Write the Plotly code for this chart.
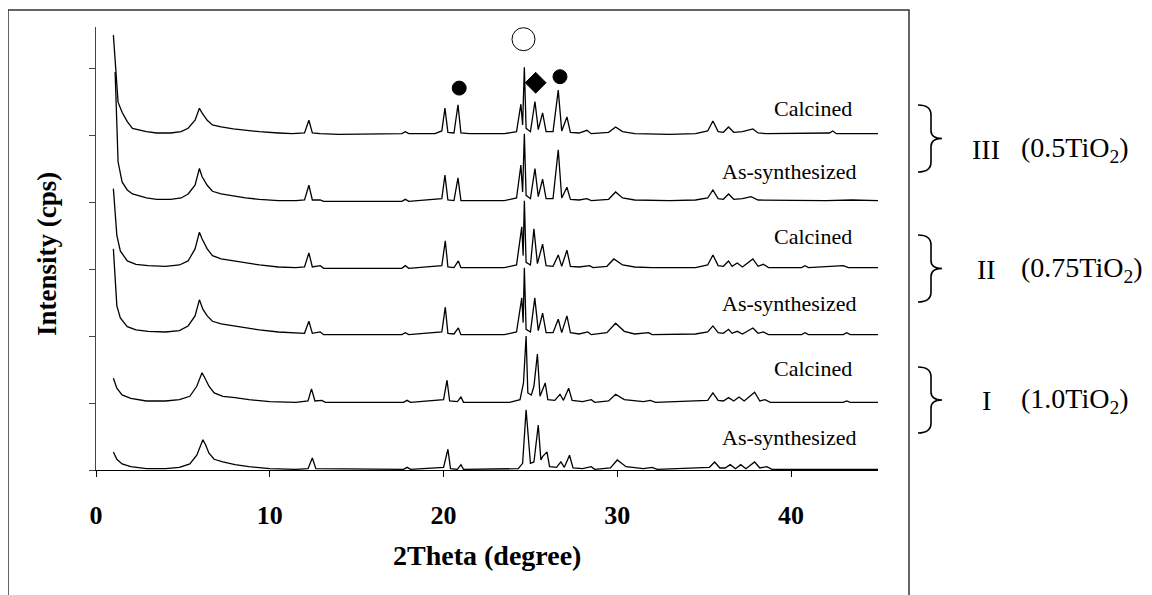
import plotly.graph_objects as go

# ---------------- data (2theta in degree, intensity in stacked units) ----------------
# Sample I  (1.0TiO2) As-synthesized
i_as_x = [1.0, 1.2, 1.5, 2.0, 2.9, 4.0, 4.8, 5.4, 5.8, 6.15, 6.3, 6.5, 6.8, 7.3, 8.0, 8.8, 10.0, 11.5,
          12.2, 12.45, 12.65, 17.7, 17.9, 18.1, 20.0, 20.25, 20.4, 20.8, 21.0, 21.15, 24.3, 24.55,
          24.75, 24.85, 25.0, 25.2, 25.45, 25.6, 25.7, 25.95, 26.1, 26.5, 26.75, 26.95, 27.25, 27.45,
          28.0, 28.5, 28.7, 29.6, 30.0, 30.5, 31.5, 32.0, 32.3, 35.3, 35.6, 35.9, 36.2, 36.5, 36.8,
          37.1, 37.4, 37.9, 38.2, 38.6, 38.9, 45.0]
i_as_y = [0.27, 0.16, 0.09, 0.05, 0.02, 0.02, 0.04, 0.09, 0.22, 0.45, 0.38, 0.25, 0.16, 0.12, 0.08, 0.05, 0.02, 0.01,
          0.02, 0.18, 0.02, 0.01, 0.04, 0.01, 0.04, 0.31, 0.02, 0.01, 0.08, 0.01, 0.02, 0.10,
          0.90, 0.60, 0.10, 0.12, 0.67, 0.15, 0.20, 0.27, 0.05, 0.04, 0.12, 0.04, 0.22, 0.03,
          0.02, 0.05, 0.01, 0.03, 0.15, 0.05, 0.02, 0.04, 0.01, 0.04, 0.12, 0.03, 0.03, 0.08, 0.02,
          0.08, 0.02, 0.12, 0.03, 0.05, 0.01, 0.01]

# Sample I  (1.0TiO2) Calcined
i_ca_x = [1.0, 1.2, 1.5, 2.0, 2.9, 4.0, 4.8, 5.4, 5.8, 6.1, 6.25, 6.5, 6.8, 7.3, 8.0, 8.8, 10.0, 11.5,
          12.2, 12.4, 12.6, 13.0, 13.2, 17.7, 17.9, 18.1, 20.0, 20.2, 20.35, 20.8, 21.0, 21.15, 23.8,
          24.4, 24.6, 24.75, 24.85, 25.05, 25.2, 25.4, 25.55, 25.85, 26.0, 26.4, 26.7, 26.9, 27.2, 27.4,
          28.0, 28.5, 28.7, 29.5, 29.9, 30.4, 31.5, 31.9, 32.2, 35.2, 35.5, 35.8, 36.1, 36.4, 36.7,
          37.0, 37.3, 37.9, 38.2, 38.5, 38.8, 43.0, 43.2, 43.4, 45.0]
i_ca_y = [0.37, 0.22, 0.12, 0.07, 0.03, 0.03, 0.05, 0.10, 0.25, 0.45, 0.38, 0.25, 0.15, 0.10, 0.08, 0.05, 0.02, 0.01,
          0.03, 0.21, 0.03, 0.04, 0.01, 0.01, 0.04, 0.01, 0.05, 0.34, 0.03, 0.02, 0.09, 0.01, 0.01,
          0.05, 0.30, 1.00, 0.15, 0.12, 0.25, 0.73, 0.10, 0.30, 0.05, 0.04, 0.13, 0.04, 0.22, 0.04,
          0.02, 0.05, 0.01, 0.03, 0.13, 0.05, 0.02, 0.04, 0.01, 0.04, 0.15, 0.04, 0.03, 0.08, 0.03,
          0.09, 0.03, 0.16, 0.03, 0.05, 0.01, 0.01, 0.03, 0.01, 0.01]

# Sample II (0.75TiO2) As-synthesized
ii_as_x = [1.0, 1.1, 1.2, 1.4, 1.8, 2.3, 3.0, 4.0, 4.8, 5.3, 5.7, 5.95, 6.15, 6.4, 6.7, 7.2, 7.9, 8.6, 9.4,
           10.5, 11.5, 12.0, 12.25, 12.45, 12.9, 13.1, 17.6, 17.8, 18.0, 19.9, 20.1, 20.25, 20.6, 20.85,
           21.0, 23.5, 24.2, 24.5, 24.58, 24.65, 24.75, 25.0, 25.25, 25.45, 25.7, 25.9, 26.3, 26.6, 26.8,
           27.1, 27.3, 27.8, 28.3, 28.5, 29.4, 29.9, 30.4, 31.0, 31.8, 32.0, 34.5, 35.2, 35.5, 35.8,
           36.1, 36.4, 36.6, 36.9, 37.2, 37.8, 38.1, 38.4, 38.7, 40.6, 40.8, 41.0, 43.0, 43.2, 43.4, 45.0]
ii_as_y = [1.30, 0.80, 0.45, 0.27, 0.14, 0.09, 0.07, 0.06, 0.08, 0.15, 0.30, 0.54, 0.40, 0.30, 0.22, 0.18, 0.15, 0.12, 0.09,
           0.06, 0.04, 0.04, 0.22, 0.04, 0.06, 0.02, 0.02, 0.05, 0.02, 0.06, 0.43, 0.04, 0.03, 0.12,
           0.02, 0.02, 0.06, 0.57, 0.20, 1.02, 0.10, 0.06, 0.57, 0.08, 0.34, 0.05, 0.05, 0.25, 0.05,
           0.30, 0.05, 0.03, 0.06, 0.02, 0.05, 0.19, 0.07, 0.03, 0.05, 0.02, 0.03, 0.06, 0.15, 0.05,
           0.04, 0.10, 0.04, 0.07, 0.03, 0.12, 0.04, 0.06, 0.02, 0.02, 0.05, 0.02, 0.02, 0.05, 0.02, 0.02]

# Sample II (0.75TiO2) Calcined
ii_ca_x = [1.0, 1.1, 1.2, 1.4, 1.8, 2.3, 3.0, 4.0, 4.8, 5.3, 5.7, 5.95, 6.1, 6.4, 6.7, 7.2, 7.9, 8.6, 9.4,
           10.5, 11.5, 12.0, 12.25, 12.45, 12.9, 13.1, 17.6, 17.8, 18.0, 19.9, 20.1, 20.25, 20.6, 20.85,
           21.0, 23.5, 24.2, 24.5, 24.58, 24.65, 24.75, 25.0, 25.2, 25.4, 25.7, 25.9, 26.3, 26.6, 26.8,
           27.1, 27.3, 27.8, 28.4, 28.6, 29.4, 29.8, 30.3, 31.0, 32.0, 34.5, 35.2, 35.5, 35.8, 36.1,
           36.4, 36.6, 36.9, 37.2, 37.8, 38.1, 38.4, 38.7, 40.6, 40.8, 41.0, 43.0, 43.3, 45.0]
ii_ca_y = [1.20, 0.85, 0.50, 0.27, 0.12, 0.07, 0.05, 0.04, 0.06, 0.12, 0.30, 0.55, 0.45, 0.30, 0.20, 0.15, 0.12, 0.09, 0.06,
           0.03, 0.02, 0.03, 0.24, 0.03, 0.05, 0.01, 0.01, 0.05, 0.01, 0.05, 0.42, 0.03, 0.02, 0.12,
           0.02, 0.02, 0.06, 0.63, 0.20, 1.02, 0.10, 0.06, 0.60, 0.08, 0.37, 0.05, 0.04, 0.21, 0.04,
           0.28, 0.04, 0.03, 0.05, 0.02, 0.04, 0.15, 0.06, 0.03, 0.02, 0.02, 0.06, 0.21, 0.05, 0.04,
           0.12, 0.04, 0.09, 0.03, 0.15, 0.04, 0.07, 0.02, 0.02, 0.05, 0.02, 0.05, 0.02, 0.02]

# Sample III (0.5TiO2) As-synthesized
iii_as_x = [1.1, 1.17, 1.27, 1.5, 1.8, 2.1, 2.9, 3.5, 4.3, 4.9, 5.3, 5.7, 5.95, 6.1, 6.4, 6.7, 7.2, 7.9, 8.6,
            9.4, 10.5, 11.5, 12.0, 12.25, 12.45, 12.9, 13.1, 17.6, 17.8, 18.0, 19.9, 20.08, 20.25, 20.6,
            20.83, 21.0, 23.5, 24.2, 24.45, 24.55, 24.65, 24.75, 25.0, 25.26, 25.45, 25.7, 25.9, 26.3,
            26.6, 26.8, 27.1, 27.3, 27.8, 28.25, 28.5, 29.5, 29.9, 30.3, 31.0, 33.0, 34.5, 35.2, 35.5,
            35.8, 36.1, 36.4, 36.7, 37.2, 37.7, 38.1, 40.0, 42.0, 43.5, 45.0]
iii_as_y = [1.94, 1.30, 0.60, 0.30, 0.18, 0.12, 0.06, 0.04, 0.04, 0.06, 0.12, 0.25, 0.50, 0.38, 0.25, 0.16, 0.12, 0.09, 0.06,
            0.04, 0.02, 0.02, 0.03, 0.25, 0.03, 0.03, 0.01, 0.01, 0.04, 0.01, 0.05, 0.40, 0.03, 0.02,
            0.36, 0.02, 0.02, 0.06, 0.55, 0.15, 1.02, 0.10, 0.05, 0.50, 0.08, 0.34, 0.05, 0.05,
            0.78, 0.06, 0.22, 0.04, 0.03, 0.05, 0.02, 0.04, 0.15, 0.06, 0.03, 0.02, 0.03, 0.06, 0.18,
            0.05, 0.04, 0.12, 0.04, 0.05, 0.08, 0.03, 0.02, 0.02, 0.03, 0.02]

# Sample III (0.5TiO2) Calcined
iii_ca_x = [1.0, 1.1, 1.15, 1.27, 1.5, 1.8, 2.1, 2.9, 3.5, 4.3, 4.9, 5.3, 5.7, 5.95, 6.1, 6.4, 6.7, 7.2, 7.9,
            8.6, 9.4, 10.5, 11.3, 12.0, 12.25, 12.45, 12.9, 14.0, 16.0, 17.6, 17.8, 18.0, 19.5, 19.9,
            20.08, 20.25, 20.6, 20.83, 21.0, 21.5, 23.5, 24.2, 24.45, 24.55, 24.65, 24.75, 25.0, 25.26,
            25.45, 25.7, 25.9, 26.3, 26.6, 26.8, 27.1, 27.3, 27.8, 28.25, 28.5, 29.5, 29.9, 30.3, 31.0,
            32.0, 33.0, 34.5, 35.2, 35.5, 35.8, 36.1, 36.4, 36.7, 37.2, 37.8, 38.1, 38.6, 40.0, 41.0,
            42.2, 42.4, 42.6, 44.0, 45.0]
iii_ca_y = [1.49, 1.10, 0.94, 0.49, 0.34, 0.20, 0.10, 0.05, 0.03, 0.03, 0.05, 0.10, 0.22, 0.40, 0.33, 0.22, 0.15, 0.12, 0.09,
            0.07, 0.05, 0.03, 0.02, 0.03, 0.22, 0.03, 0.02, 0.01, 0.01, 0.02, 0.05, 0.02, 0.02, 0.06,
            0.40, 0.04, 0.03, 0.45, 0.03, 0.02, 0.02, 0.05, 0.46, 0.15, 1.01, 0.10, 0.05, 0.50,
            0.08, 0.33, 0.05, 0.05, 0.67, 0.06, 0.27, 0.04, 0.03, 0.07, 0.02, 0.04, 0.12, 0.05, 0.02,
            0.01, 0.01, 0.02, 0.06, 0.21, 0.05, 0.04, 0.12, 0.04, 0.05, 0.09, 0.03, 0.02, 0.02, 0.02,
            0.03, 0.06, 0.02, 0.02, 0.02]

series_x = [i_as_x, i_ca_x, ii_as_x, ii_ca_x, iii_as_x, iii_ca_x]
series_y = [i_as_y, i_ca_y, ii_as_y, ii_ca_y, iii_as_y, iii_ca_y]
series_names = ["As-synthesized", "Calcined", "As-synthesized", "Calcined", "As-synthesized", "Calcined"]
stack_offsets = [0, 1, 2, 3, 4, 5]

# phase markers above peaks of the top pattern
phase_2theta = [24.6, 20.9, 25.3, 26.7]
phase_level = [6.43, 5.70, 5.78, 5.87]
phase_symbol = ["circle-open", "circle", "diamond", "circle"]
phase_size = [23, 14, 16, 14]

group_labels = ["III", "II", "I"]
group_comp = ["(0.5TiO<sub>2</sub>)", "(0.75TiO<sub>2</sub>)", "(1.0TiO<sub>2</sub>)"]

x_ticks = [0, 10, 20, 30, 40]
x_tick_text = ["<b>0</b>", "<b>10</b>", "<b>20</b>", "<b>30</b>", "<b>40</b>"]

# ---------------- figure ----------------
# the page adds an 8 px body margin, so the figure is 8 px smaller and coordinates shift by 8
OFF = 8
W, H = 1152 - OFF, 595 - OFF
SL, SR, ST, SB = 96, 878, 27, 470   # plot-area box in screen pixels
L, R, T, B = SL - OFF, SR - OFF, ST - OFF, SB - OFF
YMAX = (SB - ST) / 67.0

def px(x):
    return (x - SL) / (SR - SL)

def py(y):
    return (SB - y) / (SB - ST)

SERIF = "Liberation Serif, Times New Roman, serif"

fig = go.Figure()
for xs, ys, off, name in zip(series_x, series_y, stack_offsets, series_names):
    fig.add_trace(go.Scatter(x=xs, y=[v + off for v in ys], mode="lines",
                             line=dict(color="black", width=1.3), name=name,
                             showlegend=False, hoverinfo="skip"))

fig.add_trace(go.Scatter(x=phase_2theta, y=phase_level, mode="markers",
                         marker=dict(symbol=phase_symbol, size=phase_size, color="#000000",
                                     opacity=1, line=dict(color="#000000", width=1)),
                         showlegend=False, hoverinfo="skip", cliponaxis=False))

annotations = []
# series labels
label_pos_y = [0.49, 1.51, 2.48, 3.49, 4.45, 5.40]
label_right = {"Calcined": 43.6, "As-synthesized": 43.84}
for name, yl in zip(series_names, label_pos_y):
    annotations.append(dict(x=label_right[name], y=yl, xref="x", yref="y", text=name, showarrow=False,
                            xanchor="right", yanchor="middle",
                            font=dict(family=SERIF, size=22, color="black")))

# group labels on the right
group_text_y = [149, 269, 400]
for lab, comp, ty in zip(group_labels, group_comp, group_text_y):
    annotations.append(dict(x=px(986), y=py(ty), xref="paper", yref="paper", text=lab,
                            showarrow=False, xanchor="center", yanchor="middle",
                            font=dict(family=SERIF, size=28, color="black")))
    annotations.append(dict(x=px(1019), y=py(ty), xref="paper", yref="paper", text=comp,
                            showarrow=False, xanchor="left", yanchor="middle",
                            font=dict(family=SERIF, size=28, color="black")))

# axis titles
annotations.append(dict(x=px(487), y=py(555), xref="paper", yref="paper",
                        text="<b>2Theta (degree)</b>", showarrow=False,
                        xanchor="center", yanchor="middle",
                        font=dict(family=SERIF, size=28, color="black")))
annotations.append(dict(x=px(47), y=py(254), xref="paper", yref="paper",
                        text="<b>Intensity (cps)</b>", showarrow=False, textangle=-90,
                        xanchor="center", yanchor="middle",
                        font=dict(family=SERIF, size=27, color="black")))

shapes = []
# outer frame
shapes.append(dict(type="rect", xref="paper", yref="paper",
                   x0=px(8), x1=px(909), y0=py(620), y1=py(10),
                   line=dict(color="#333333", width=1.5), layer="above"))

# curly braces
brace_spans = [(105, 172), (235, 302), (367, 433)]
for (y0, y1) in brace_spans:
    ym = (y0 + y1) / 2
    x0, xm, x1 = 918, 931, 942
    pts = [
        f"M {px(x0)},{py(y0)}",
        f"Q {px(xm)},{py(y0)} {px(xm)},{py(y0 + 10)}",
        f"L {px(xm)},{py(ym - 8)}",
        f"Q {px(xm)},{py(ym)} {px(x1)},{py(ym)}",
        f"Q {px(xm)},{py(ym)} {px(xm)},{py(ym + 8)}",
        f"L {px(xm)},{py(y1 - 10)}",
        f"Q {px(xm)},{py(y1)} {px(x0)},{py(y1)}",
    ]
    shapes.append(dict(type="path", xref="paper", yref="paper", path=" ".join(pts),
                       line=dict(color="black", width=1.6)))

fig.update_layout(
    width=W, height=H,
    margin=dict(l=L, r=W - R, t=T, b=H - B),
    paper_bgcolor="white", plot_bgcolor="white",
    annotations=annotations, shapes=shapes,
    xaxis=dict(range=[0, 45], tickvals=x_ticks, ticktext=x_tick_text, ticks="outside", ticklen=6,
               tickcolor="black", showline=True, linecolor="black", linewidth=1,
               showgrid=False, zeroline=False, automargin=False,
               tickfont=dict(family=SERIF, size=26, color="black"),
               ticklabelstandoff=16),
    yaxis=dict(range=[0, YMAX], tickvals=[0, 1, 2, 3, 4, 5, 6], ticks="outside", ticklen=6,
               tickcolor="#444444", showline=True, linecolor="#444444", linewidth=1,
               showgrid=False, zeroline=False, showticklabels=False),
)

fig.write_html("out.html")
